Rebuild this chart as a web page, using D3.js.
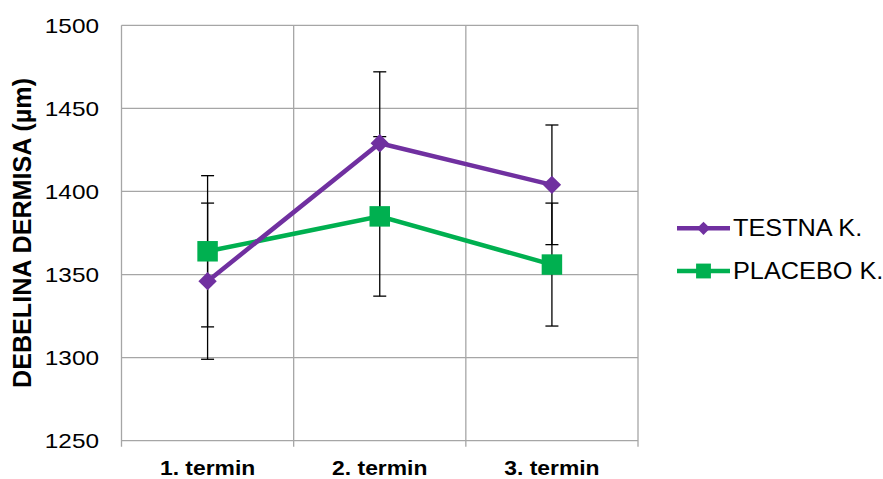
<!DOCTYPE html>
<html>
<head>
  <meta charset="utf-8">
  <script src="https://cdn.jsdelivr.net/npm/d3@7"></script>
  <style>
    body { margin: 0; background: #fff; }
    text { font-family: "Liberation Sans", Arial, sans-serif; fill: #000; }
    .grid line { stroke: #a6a6a6; stroke-width: 1.3px; }
    .err { stroke: #000; stroke-width: 1.3px; }
  </style>
</head>
<body>
<svg id="chart" width="883" height="479"></svg>
<script>
  // data
  var categories = ['1. termin', '2. termin', '3. termin'];
  var testna = [1346, 1429, 1404];
  var testnaErr = [47, 43, 36];
  var placebo = [1364, 1385, 1356];
  var placeboErr = [45.5, 48, 37];
  var yTicks = [1250, 1300, 1350, 1400, 1450, 1500];
  var seriesNames = ['TESTNA K.', 'PLACEBO K.'];

  var svg = d3.select('#chart');
  var pLeft = 121.5, pRight = 638, pTop = 25.3, pBottom = 440.7;

  var x = d3.scaleBand().domain(categories).range([pLeft, pRight]);
  var y = d3.scaleLinear().domain([1250, 1500]).range([pBottom, pTop]);

  var series = [
    { name: seriesNames[0], values: testna, err: testnaErr, color: '#7030a0', marker: 'diamond' },
    { name: seriesNames[1], values: placebo, err: placeboErr, color: '#00b050', marker: 'square' }
  ];

  // text in the source is a bit stretched sideways
  function label(px, py, sx, str, size, bold, anchor) {
    svg.append('g').attr('transform', 'translate(' + px + ',' + py + ') scale(' + sx + ',1)')
      .append('text')
      .attr('text-anchor', anchor || 'start')
      .style('font-size', size + 'px')
      .style('font-weight', bold ? 'bold' : 'normal')
      .text(str);
  }

  // gridlines
  var grid = svg.append('g').attr('class', 'grid');
  grid.selectAll('.h').data(yTicks).enter().append('line')
    .attr('x1', pLeft).attr('x2', pRight)
    .attr('y1', d => y(d)).attr('y2', d => y(d));
  var xEdges = categories.map(c => x(c)).concat([pRight]);
  grid.selectAll('.v').data(xEdges).enter().append('line')
    .attr('x1', d => d).attr('x2', d => d)
    .attr('y1', pTop).attr('y2', pBottom + 6);

  // y tick labels
  yTicks.forEach(t => label(99, y(t) + 7.5, 1.16, t, 21, false, 'end'));

  // x labels
  var cx = d => x(d) + x.bandwidth() / 2;
  categories.forEach(c => label(cx(c), 474.5, 1.09, c, 21, true, 'middle'));

  // y title
  svg.append('text')
    .attr('transform', 'translate(31,233) rotate(-90)')
    .attr('text-anchor', 'middle')
    .attr('textLength', 310).attr('lengthAdjust', 'spacingAndGlyphs')
    .style('font-size', '25px').style('font-weight', 'bold')
    .text('DEBELINA DERMISA (µm)');

  // error bars
  series.forEach(s => {
    var g = svg.append('g').attr('class', 'err');
    categories.forEach((c, i) => {
      var hi = y(s.values[i] + s.err[i]), lo = y(s.values[i] - s.err[i]);
      g.append('line').attr('x1', cx(c)).attr('x2', cx(c)).attr('y1', hi).attr('y2', lo);
      g.append('line').attr('x1', cx(c) - 6.5).attr('x2', cx(c) + 6.5).attr('y1', hi).attr('y2', hi);
      g.append('line').attr('x1', cx(c) - 6.5).attr('x2', cx(c) + 6.5).attr('y1', lo).attr('y2', lo);
    });
  });

  var line = d3.line().x((d, i) => cx(categories[i])).y(d => y(d));
  var sym = {
    diamond: d3.symbol().type(d3.symbolDiamond2).size(215),
    square: d3.symbol().type(d3.symbolSquare).size(420)
  };
  var legSym = {
    diamond: d3.symbol().type(d3.symbolDiamond2).size(112),
    square: d3.symbol().type(d3.symbolSquare).size(220)
  };

  series.slice().reverse().forEach(s => {
    svg.append('path').datum(s.values)
      .attr('d', line)
      .attr('fill', 'none').attr('stroke', s.color).attr('stroke-width', 4.5);
    svg.selectAll(null).data(s.values).enter().append('path')
      .attr('transform', (d, i) => 'translate(' + cx(categories[i]) + ',' + y(d) + ')')
      .attr('d', sym[s.marker])
      .attr('fill', s.color);
  });

  // legend
  series.forEach((s, i) => {
    var ly = 228.3 + i * 42.7;
    svg.append('line').attr('x1', 677).attr('x2', 730).attr('y1', ly).attr('y2', ly)
      .attr('stroke', s.color).attr('stroke-width', 4.5);
    svg.append('path').attr('transform', 'translate(703.5,' + ly + ')')
      .attr('d', legSym[s.marker]).attr('fill', s.color);
    label(733, ly + 7.5, 1.1, s.name, 23, false);
  });
</script>
</body>
</html>
